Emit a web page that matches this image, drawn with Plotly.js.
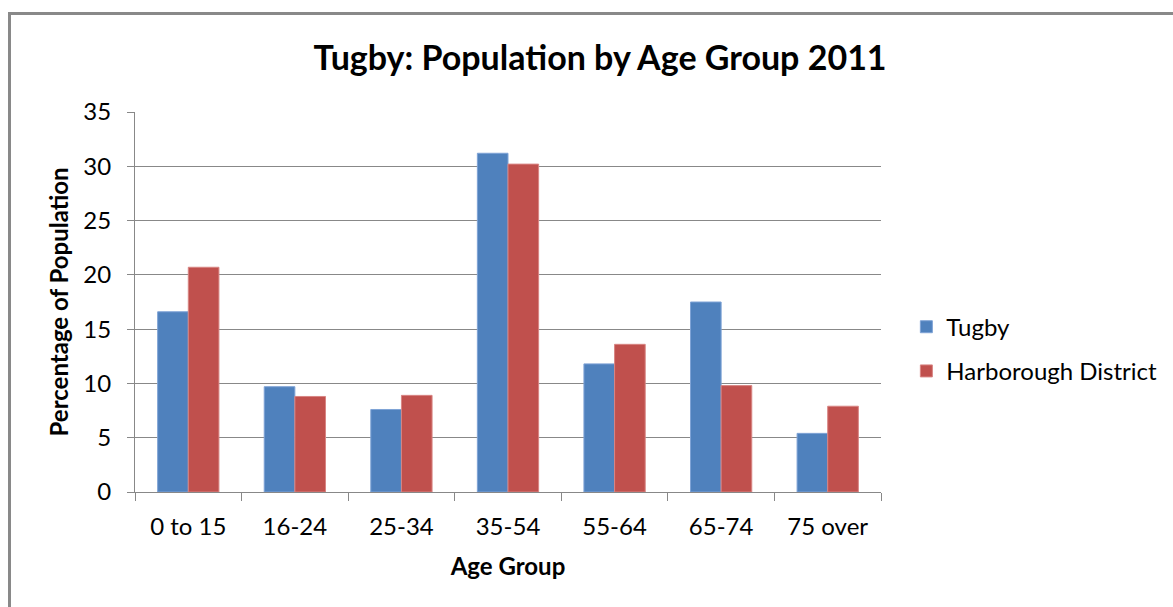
<!DOCTYPE html>
<html>
<head>
<meta charset="utf-8">
<script src="https://cdn.plot.ly/plotly-3.0.1.min.js"></script>
<style>
  html, body { margin: 0; padding: 0; background: #ffffff; overflow: hidden; }
  #frame { position: absolute; left: 8px; top: 12px; width: 1200px; height: 640px;
           border: 3px solid #898989; background: #ffffff; z-index: 0; }
  #chart { position: absolute; left: 0; top: 0; width: 1200px; height: 607px; z-index: 1; }
</style>
</head>
<body>
<div id="frame"></div>
<div id="chart"></div>
<script>
const categories = ["0 to 15", "16-24", "25-34", "35-54", "55-64", "65-74", "75 over"];
const tugby = [16.6, 9.7, 7.6, 31.2, 11.8, 17.5, 5.4];
const harborough = [20.7, 8.8, 8.9, 30.2, 13.6, 9.8, 7.9];
const yTicks = [0, 5, 10, 15, 20, 25, 30, 35];

const FONT = "Lato, 'Open Sans', sans-serif";

const traces = [
  { type: "bar", name: "Tugby", x: categories, y: tugby, legendgroup: "a",
    marker: { color: "#4F81BD", line: { color: "#7FA3D6", width: 1 } } },
  { type: "bar", name: "Harborough District", x: categories, y: harborough, legendgroup: "b",
    marker: { color: "#C0504D", line: { color: "#D88583", width: 1 } } }
];

const layout = {
  width: 1200, height: 607,
  margin: { l: 135, r: 319, t: 112, b: 115, pad: 0 },
  paper_bgcolor: "rgba(0,0,0,0)",
  plot_bgcolor: "rgba(0,0,0,0)",
  font: { family: FONT, color: "#000000" },
  barmode: "group",
  bargap: 0.425,
  bargroupgap: 0,
  showlegend: true,
  title: {
    text: "<b>Tugby: Population by Age Group 2011</b>",
    font: { family: FONT, size: 34, color: "#000000" },
    x: 0.5, xref: "container", xanchor: "center",
    y: 0.905, yref: "container", yanchor: "middle"
  },
  xaxis: {
    type: "category",
    tickson: "boundaries",
    ticks: "outside", ticklen: 8, tickcolor: "#888888", tickwidth: 1,
    showline: true, linecolor: "#888888", linewidth: 1,
    showgrid: false, zeroline: false,
    tickfont: { family: FONT, size: 24, color: "#000000" },
    ticklabelstandoff: 13,
    title: { text: "<b>Age Group</b>", font: { family: FONT, size: 24, color: "#000000" }, standoff: 19 }
  },
  yaxis: {
    range: [0, 35],
    tickvals: yTicks,
    ticktext: yTicks.map(String),
    ticks: "outside", ticklen: 7, tickcolor: "#888888", tickwidth: 1,
    showline: true, linecolor: "#888888", linewidth: 1,
    showgrid: true, gridcolor: "#888888", gridwidth: 1,
    zeroline: false,
    tickfont: { family: FONT, size: 24, color: "#000000" },
    ticklabelstandoff: 11,
    title: { text: "<b>Percentage of Population</b>", font: { family: FONT, size: 24, color: "#000000" }, standoff: 7 }
  },
  legend: {
    x: 1.034, xanchor: "left",
    y: 0.376, yanchor: "middle",
    traceorder: "grouped",
    tracegroupgap: 10,
    font: { family: FONT, size: 24, color: "#000000" },
    bgcolor: "rgba(0,0,0,0)",
    itemwidth: 30
  }
};

Plotly.newPlot("chart", traces, layout, { displayModeBar: false, staticPlot: true });
</script>
</body>
</html>
